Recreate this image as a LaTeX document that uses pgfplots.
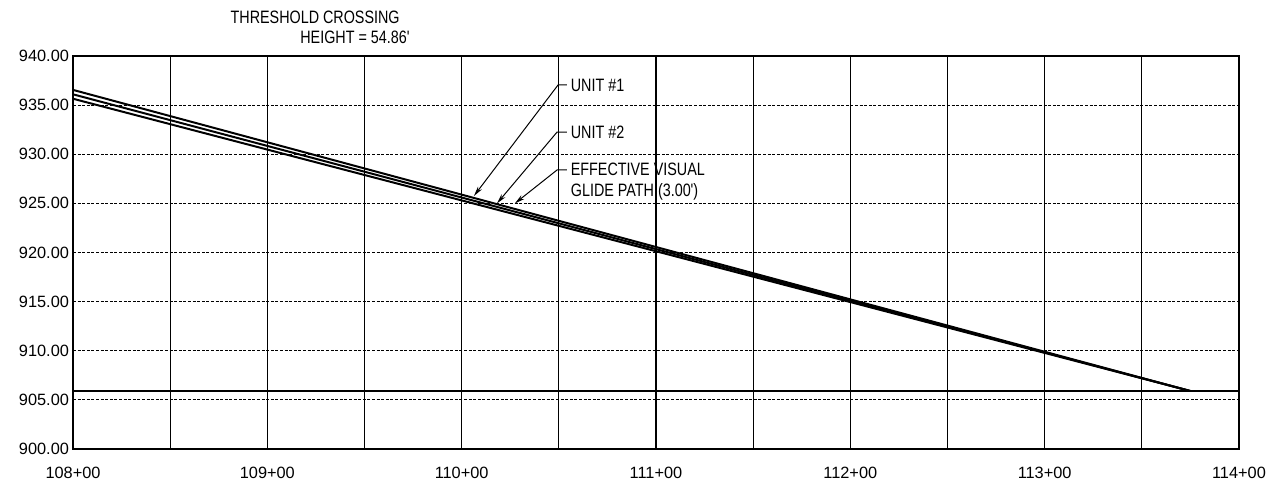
\documentclass[border=0pt]{standalone}
\usepackage{fontspec}
\setmainfont{Liberation Sans}
\newfontfamily\cad{Liberation Sans}[FakeStretch=0.8]
\usepackage{pgfplots}
\pgfplotsset{compat=1.18}
\usetikzlibrary{arrows.meta}

\begin{document}
\begin{tikzpicture}
\begin{axis}[
    at={(0,0)}, anchor=south west,
    scale only axis,
    width=583bp, height=196.5bp,
    xmin=108, xmax=114,
    ymin=900, ymax=940,
    xtick={108,109,110,111,112,113,114},
    xticklabels={108+00,109+00,110+00,111+00,112+00,113+00,114+00},
    minor xtick={108.5,109.5,110.5,111.5,112.5,113.5},
    ytick={900,905,910,915,920,925,930,935,940},
    yticklabels={900.00,905.00,910.00,915.00,920.00,925.00,930.00,935.00,940.00},
    major tick length=0pt, minor tick length=0pt,
    xmajorgrids, xminorgrids, ymajorgrids,
    major grid style={black, line width=0.6pt},
    minor grid style={black, line width=0.6pt},
    every axis y grid/.append style={dash pattern=on 1.5bp off 0.8bp},
    axis line style={black, line width=0.9pt},
    ticklabel style={font=\fontsize{8.2}{9.8}\selectfont},
    xticklabel style={yshift=-5.5bp},
    yticklabel style={xshift=1.5bp},
    clip=false,
]
% glide path lines
\addplot[black, line width=1pt] coordinates {(108,936.55) (113.75,905.9)};
\addplot[black, line width=1pt] coordinates {(108,936.10) (113.75,905.9)};
\addplot[black, line width=1pt] coordinates {(108,935.65) (113.75,905.9)};
% runway elevation
\addplot[black, line width=1pt] coordinates {(108,905.9) (114,905.9)};

% annotations
\node[anchor=east, inner sep=0pt, font=\cad\fontsize{9}{10.5}\selectfont]
    at (axis cs:109.683,943.97) {THRESHOLD CROSSING};
\node[anchor=east, inner sep=0pt, font=\cad\fontsize{9}{10.5}\selectfont]
    at (axis cs:109.734,941.93) {HEIGHT = 54.86'};

\draw[line width=0.5pt, -{Stealth[length=5bp,width=2.4bp]}]
    (axis cs:110.542,937.05) -- (axis cs:110.496,937.05) -- (axis cs:110.063,925.75);
\node[anchor=west, inner sep=0pt, font=\cad\fontsize{9}{10.5}\selectfont]
    at (axis cs:110.56,937.05) {UNIT \#1};

\draw[line width=0.5pt, -{Stealth[length=5bp,width=2.4bp]}]
    (axis cs:110.542,932.26) -- (axis cs:110.491,932.26) -- (axis cs:110.182,925.0);
\node[anchor=west, inner sep=0pt, font=\cad\fontsize{9}{10.5}\selectfont]
    at (axis cs:110.56,932.26) {UNIT \#2};

\draw[line width=0.5pt, -{Stealth[length=5bp,width=2.4bp]}]
    (axis cs:110.542,928.40) -- (axis cs:110.491,928.40) -- (axis cs:110.274,925.0);
\node[anchor=north west, inner sep=0pt, align=left, font=\cad\fontsize{9}{10.5}\selectfont]
    at (axis cs:110.56,929.15) {EFFECTIVE VISUAL\\GLIDE PATH (3.00')};
\end{axis}
\pgfresetboundingbox
\useasboundingbox (-36.5bp,-18.5bp) rectangle (603.5bp,224.5bp);
\end{tikzpicture}
\end{document}
